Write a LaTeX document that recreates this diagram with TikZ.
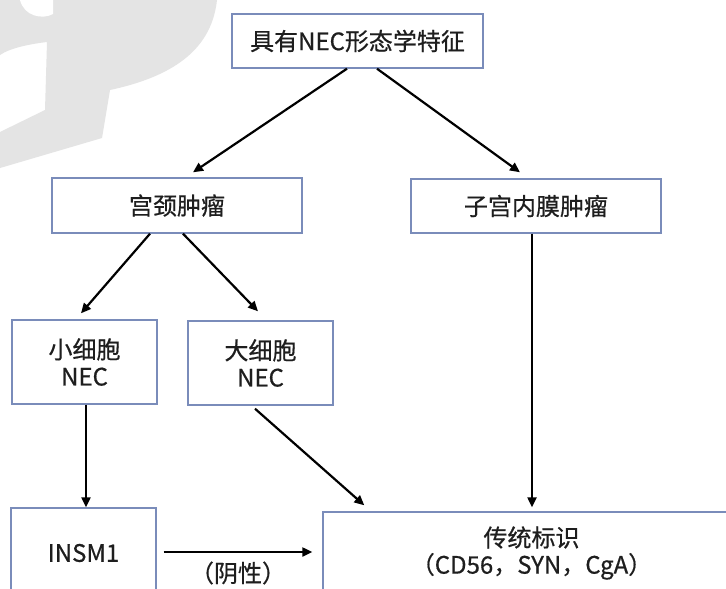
\documentclass[tikz,border=0pt]{standalone}
\usepackage{fontspec}
\setmainfont{Noto Sans CJK SC}[FakeBold=0.6]
\usetikzlibrary{arrows.meta,calc}
\definecolor{boxblue}{HTML}{7A8CBA}
\definecolor{wm}{HTML}{E4E4E4}
\definecolor{txt}{HTML}{1E1E1E}
\begin{document}
\begin{tikzpicture}[x=1pt,y=-1pt,
  box/.style={draw=boxblue, line width=1.4pt, fill=white, inner sep=0pt, text=txt,
              font=\fontsize{24}{27}\selectfont, align=center},
  lbl/.style={text=txt, font=\fontsize{24}{27}\selectfont, inner sep=0pt},
  arr/.style={line width=2.2pt, draw=black, -{Triangle[length=10pt,width=9pt]}}]
\useasboundingbox (0,0) rectangle (726,589);
\fill[white] (0,0) rectangle (726,589);
% watermark
\fill[wm] (0,0) -- (217,0) .. controls (212,45) and (180,75) .. (110,90) -- (102,138)
  -- (0,168) -- (0,132) -- (45,110) -- (47,42) .. controls (30,44) and (10,48) .. (0,55) -- cycle;
\fill[white] (20,0) .. controls (24,16) and (42,20) .. (53,14) -- (53,0) -- cycle;
% nodes
\node[box, minimum width=251pt, minimum height=54pt] (top) at (357.5,41) {具有NEC形态学特征};
\node[box, minimum width=250pt, minimum height=55pt] (cervix) at (177,205.5) {宫颈肿瘤};
\node[box, minimum width=250pt, minimum height=54pt] (endo) at (536,206) {子宫内膜肿瘤};
\node[box, minimum width=145pt, minimum height=84pt] (small) at (84.5,362) {小细胞\\NEC};
\node[box, minimum width=145pt, minimum height=84pt] (large) at (260.5,363) {大细胞\\NEC};
\node[box, minimum width=145pt, minimum height=90pt] (insm) at (83.5,553) {INSM1};
\node[box, minimum width=417pt, minimum height=82pt] (trad) at (531.5,553) {传统标识\\（CD56，SYN，CgA）};
% connectors
\draw[arr] ($(top.south)+(-10.5,0)$) -- ($(cervix.north)+(16,-5)$);
\draw[arr] ($(top.south)+(19.5,0)$) -- ($(endo.north)+(-16,-6)$);
\draw[arr] ($(cervix.south)+(-27,0)$) -- ($(small.north)+(-3.5,-6)$);
\draw[arr] ($(cervix.south)+(6,0)$) -- ($(large.north)+(-2.5,-9)$);
\draw[arr] ($(endo.south)+(-4,0)$) -- ($(endo.south |- trad.north)+(-4,-4)$);
\draw[arr] ($(small.south)+(1.5,0)$) -- ($(small.south |- insm.north)+(1.5,0)$);
\draw[arr] ($(large.south)+(-5.5,3)$) -- ($(trad.north west)+(42,-6)$);
\draw[arr] ($(insm.east)+(7,-1)$) -- ($(trad.west)+(-10,-1)$)
  node[lbl, midway, yshift=-21pt] (neg) {（阴性）};
\end{tikzpicture}
\end{document}
